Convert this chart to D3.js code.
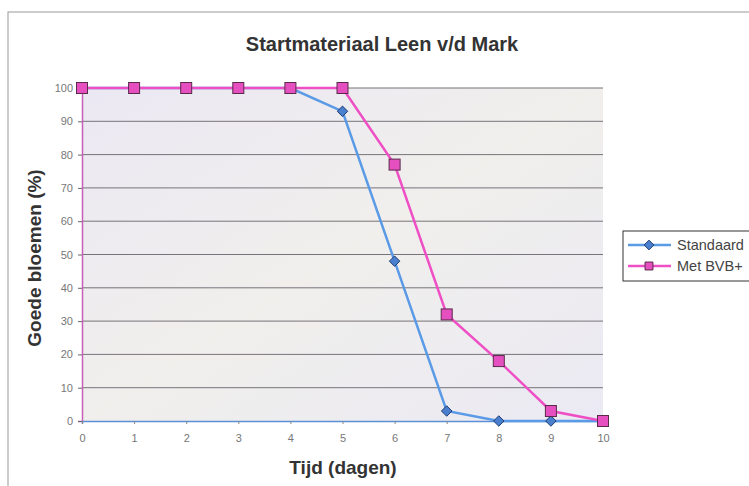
<!DOCTYPE html>
<html>
<head>
<meta charset="utf-8">
<script src="https://cdn.jsdelivr.net/npm/d3@7"></script>
<style>
  body { margin: 0; background: #fff; }
  text { font-family: "Liberation Sans", Arial, sans-serif; }
</style>
</head>
<body>
<svg id="chart"></svg>
<script>
var days = [0, 1, 2, 3, 4, 5, 6, 7, 8, 9, 10];
var standaard = [100, 100, 100, 100, 100, 93, 48, 3, 0, 0, 0];
var metBVB = [100, 100, 100, 100, 100, 100, 77, 32, 18, 3, 0];
var yTicks = [0, 10, 20, 30, 40, 50, 60, 70, 80, 90, 100];

var w = 749, h = 486;
var svg = d3.select("#chart").attr("width", w).attr("height", h);

// outer chart border
svg.append("rect")
    .attr("x", 8).attr("y", 12)
    .attr("width", 760).attr("height", 490)
    .attr("fill", "#fff")
    .attr("stroke", "#999").attr("stroke-width", 1);

var plotLeft = 82, plotRight = 603, plotTop = 88, plotBottom = 421;

var x = d3.scaleLinear().domain([0, 10]).range([plotLeft, plotRight]);
var y = d3.scaleLinear().domain([0, 100]).range([plotBottom, plotTop]);

// plot background with a soft gray/lavender gradient
var defs = svg.append("defs");
var grad = defs.append("linearGradient").attr("id", "bg")
    .attr("x1", "0").attr("y1", "0").attr("x2", "1").attr("y2", "1");
grad.append("stop").attr("offset", "0%").attr("stop-color", "#ebe8f3");
grad.append("stop").attr("offset", "50%").attr("stop-color", "#f0efec");
grad.append("stop").attr("offset", "100%").attr("stop-color", "#ebe9f3");

svg.append("rect")
    .attr("x", plotLeft).attr("y", plotTop)
    .attr("width", plotRight - plotLeft).attr("height", plotBottom - plotTop)
    .attr("fill", "url(#bg)");

// gridlines
svg.append("g").selectAll("line")
    .data(yTicks.filter(function (d) { return d > 0; }))
    .enter().append("line")
    .attr("x1", plotLeft).attr("x2", plotRight)
    .attr("y1", function (d) { return y(d); })
    .attr("y2", function (d) { return y(d); })
    .attr("stroke", "#77737a").attr("stroke-width", 1);

// y axis
var yAxis = svg.append("g")
    .attr("transform", "translate(" + plotLeft + ",0)")
    .call(d3.axisLeft(y).tickValues(yTicks).tickSize(4).tickPadding(5));
yAxis.select(".domain").attr("stroke", "#c75fb8").attr("stroke-width", 1.5);
yAxis.selectAll(".tick line").attr("stroke", "#666");
yAxis.selectAll("text").attr("fill", "#777").style("font-size", "11px");

// x axis
var xAxis = svg.append("g")
    .attr("transform", "translate(0," + plotBottom + ")")
    .call(d3.axisBottom(x).tickValues(days).tickSize(3).tickPadding(10));
xAxis.select(".domain").attr("stroke", "#5b8fd6").attr("stroke-width", 1.5);
xAxis.selectAll(".tick line").attr("stroke", "#888");
xAxis.selectAll("text").attr("fill", "#777").style("font-size", "11px");

var line = d3.line()
    .x(function (d, i) { return x(days[i]); })
    .y(function (d) { return y(d); });

var blue = "#5b9ae6", pink = "#ee4fc4";

// Standaard series (drawn first, Met BVB+ lies over it)
svg.append("path").datum(standaard)
    .attr("d", line).attr("fill", "none")
    .attr("stroke", blue).attr("stroke-width", 2.5);

svg.append("g").selectAll("path")
    .data(standaard).enter().append("path")
    .attr("d", d3.symbol().type(d3.symbolDiamond2).size(70))
    .attr("transform", function (d, i) { return "translate(" + x(days[i]) + "," + y(d) + ")"; })
    .attr("fill", "#4a7fcf").attr("stroke", "#1f3c6e").attr("stroke-width", 1);

// Met BVB+ series
svg.append("path").datum(metBVB)
    .attr("d", line).attr("fill", "none")
    .attr("stroke", pink).attr("stroke-width", 2.5);

svg.append("g").selectAll("rect")
    .data(metBVB).enter().append("rect")
    .attr("x", function (d, i) { return x(days[i]) - 5.5; })
    .attr("y", function (d) { return y(d) - 5.5; })
    .attr("width", 11).attr("height", 11)
    .attr("fill", "#e64fc0").attr("stroke", "#5a2a4a").attr("stroke-width", 1);

// title and axis labels
svg.append("text")
    .attr("x", 382).attr("y", 51)
    .attr("text-anchor", "middle")
    .style("font-size", "20px").style("font-weight", "bold")
    .attr("fill", "#333")
    .text("Startmateriaal Leen v/d Mark");

svg.append("text")
    .attr("transform", "translate(41,258) rotate(-90)")
    .attr("text-anchor", "middle")
    .style("font-size", "19px").style("font-weight", "bold")
    .attr("fill", "#333")
    .text("Goede bloemen (%)");

svg.append("text")
    .attr("x", 343).attr("y", 474)
    .attr("text-anchor", "middle")
    .style("font-size", "19px").style("font-weight", "bold")
    .attr("fill", "#333")
    .text("Tijd (dagen)");

// legend
var series = [
    { name: "Standaard", color: blue, marker: "diamond" },
    { name: "Met BVB+", color: pink, marker: "square" }
];
var legend = svg.append("g").attr("transform", "translate(623,231)");
legend.append("rect")
    .attr("width", 140).attr("height", 50)
    .attr("fill", "#fff").attr("stroke", "#333").attr("stroke-width", 1);

var items = legend.selectAll("g.item")
    .data(series).enter().append("g")
    .attr("class", "item")
    .attr("transform", function (d, i) { return "translate(0," + (14 + i * 21) + ")"; });
items.append("line")
    .attr("x1", 5).attr("x2", 48)
    .attr("stroke", function (d) { return d.color; }).attr("stroke-width", 2.5);
items.append("path")
    .attr("d", function (d) {
        return d.marker === "diamond"
            ? d3.symbol().type(d3.symbolDiamond2).size(60)()
            : d3.symbol().type(d3.symbolSquare2).size(80)();
    })
    .attr("transform", "translate(26,0)")
    .attr("fill", function (d) { return d.marker === "diamond" ? "#4a7fcf" : "#e64fc0"; })
    .attr("stroke", function (d) { return d.marker === "diamond" ? "#1f3c6e" : "#5a2a4a"; });
items.append("text")
    .attr("x", 54).attr("y", 5)
    .style("font-size", "14.5px").attr("fill", "#444")
    .text(function (d) { return d.name; });
</script>
</body>
</html>
